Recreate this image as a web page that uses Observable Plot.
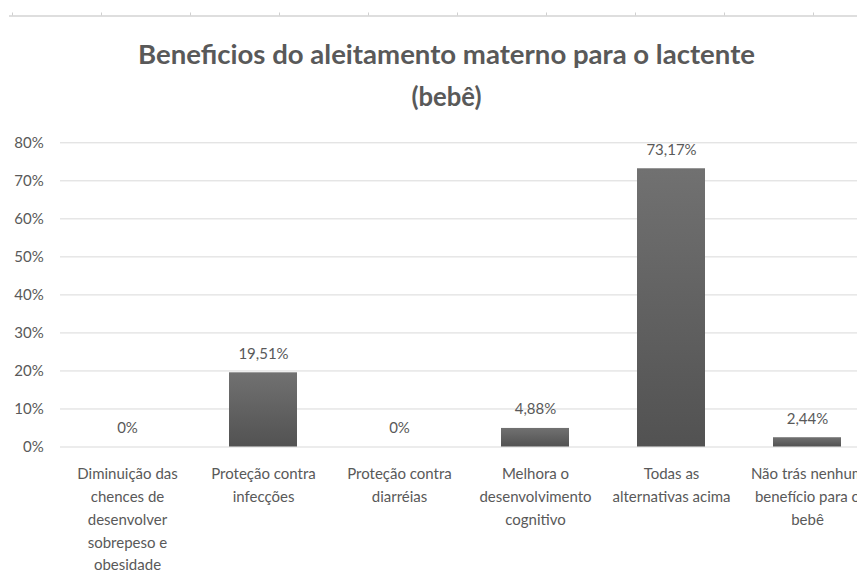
<!DOCTYPE html>
<html>
<head>
<meta charset="utf-8">
<script src="https://cdn.jsdelivr.net/npm/d3@7"></script>
<script src="https://cdn.jsdelivr.net/npm/@observablehq/plot@0.6"></script>
<style>
  html, body { margin: 0; padding: 0; background: white; overflow: hidden; }
  #chart svg { display: block; }
</style>
</head>
<body>
<div id="chart"></div>
<script>
const titleLines = ["Beneficios do aleitamento materno para o lactente", "(bebê)"];
const categories = [
  "Diminuição das\nchences de\ndesenvolver\nsobrepeso e\nobesidade",
  "Proteção contra\ninfecções",
  "Proteção contra\ndiarréias",
  "Melhora o\ndesenvolvimento\ncognitivo",
  "Todas as\nalternativas acima",
  "Não trás nenhum\nbenefício para o\nbebê"
];
const values = [0, 0.1951, 0, 0.0488, 0.7317, 0.0244];
const valueLabels = ["0%", "19,51%", "0%", "4,88%", "73,17%", "2,44%"];
const yTicks = [0, 0.1, 0.2, 0.3, 0.4, 0.5, 0.6, 0.7, 0.8];

const data = categories.map((c, i) => ({cat: c, value: values[i], label: valueLabels[i]}));

const W = 857;
const textColor = "#595959";
const font = "Lato, 'Open Sans', sans-serif";

// Header (spreadsheet edge + title)
const header = d3.create("svg").attr("width", W).attr("height", 120).style("display", "block");
header.append("rect").attr("x", 9).attr("y", 15).attr("width", W - 9).attr("height", 2).attr("fill", "#dedede");
header.append("g").selectAll("rect").data(d3.range(12, W, 89)).join("rect")
  .attr("x", d => d).attr("y", 12.5).attr("width", 1).attr("height", 3).attr("fill", "#d0d0d0");
const titleSpecs = [{y: 64, len: 617}, {y: 106, len: 70}];
header.append("g").selectAll("text").data(titleLines).join("text")
  .attr("x", 446.5).attr("y", (d, i) => titleSpecs[i].y)
  .attr("text-anchor", "middle")
  .attr("textLength", (d, i) => titleSpecs[i].len)
  .attr("lengthAdjust", "spacingAndGlyphs")
  .attr("font-family", font).attr("font-weight", "bold").attr("font-size", 27)
  .attr("fill", textColor)
  .text(d => d);

const plot = Plot.plot({
  width: W,
  height: 450,
  marginTop: 22.3,
  marginBottom: 123.5,
  marginLeft: 60,
  marginRight: 0,
  style: {fontFamily: font, fontSize: "15px", color: textColor, background: "white", overflow: "hidden"},
  x: {domain: categories, range: [58.5, 874.5], paddingInner: 0.5, paddingOuter: 0.25, label: null},
  y: {domain: [0, 0.8], label: null},
  marks: [
    Plot.gridY(yTicks, {stroke: "#d9d9d9", strokeOpacity: 1, strokeWidth: 1}),
    Plot.axisY(yTicks, {tickSize: 0, tickPadding: 16.7, tickFormat: d3.format(".0%"), fontSize: 15, fill: textColor, label: null}),
    Plot.axisX({tickSize: 0, tickPadding: 16, fontSize: 15, lineHeight: 1.52, fill: textColor, label: null}),
    Plot.barY(data, {x: "cat", y: "value", fill: "url(#barGrad)"}),
    Plot.text(data, {x: "cat", y: "value", text: "label", lineAnchor: "bottom", dy: -14, fontSize: 15, fill: textColor})
  ]
});

const defs = d3.select(plot).insert("defs", ":first-child");
const grad = defs.append("linearGradient").attr("id", "barGrad").attr("x1", 0).attr("y1", 0).attr("x2", 0).attr("y2", 1);
grad.append("stop").attr("offset", "0%").attr("stop-color", "#717171");
grad.append("stop").attr("offset", "100%").attr("stop-color", "#525252");

const chart = document.getElementById("chart");
chart.appendChild(header.node());
chart.appendChild(plot);
</script>
</body>
</html>
